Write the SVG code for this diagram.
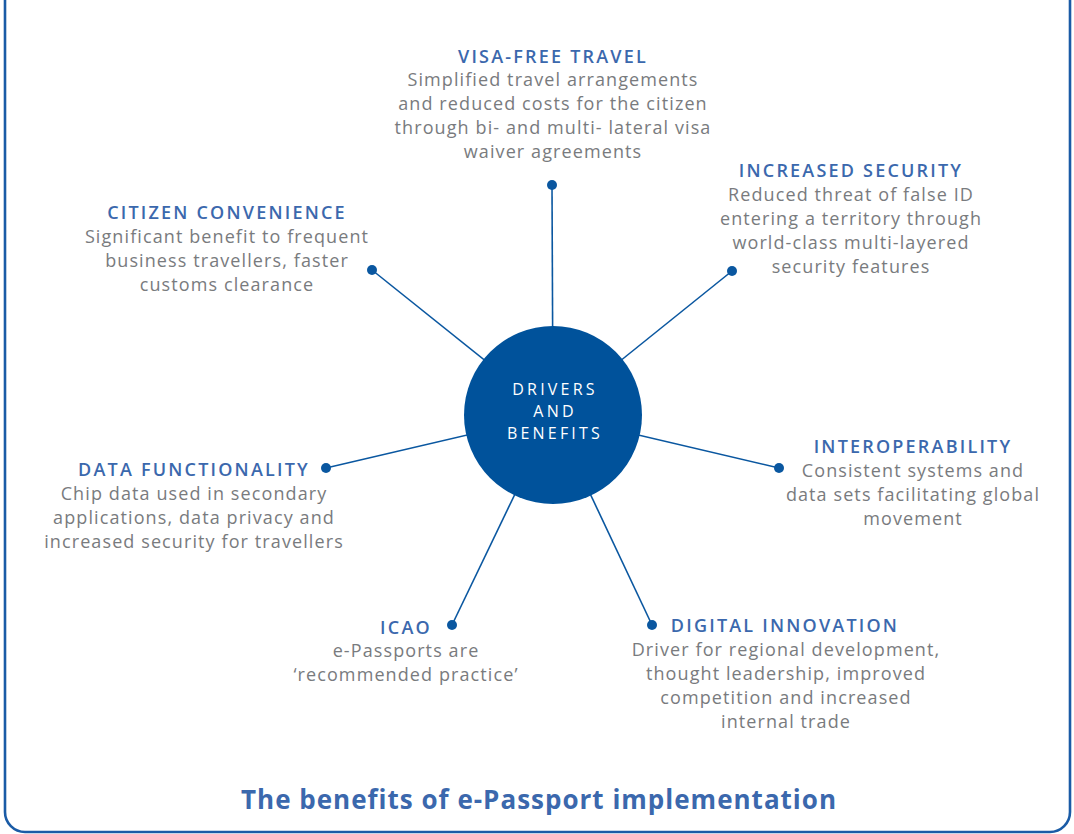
<svg xmlns="http://www.w3.org/2000/svg" width="1074" height="834" viewBox="0 0 1074 834">
<style>
.h{font-family:"Open Sans","Liberation Sans",sans-serif;font-size:18px;font-weight:600;fill:#3b68ad;letter-spacing:2.2px;text-anchor:middle}
.b{font-family:"Open Sans","Liberation Sans",sans-serif;font-size:18px;fill:#797b7e;text-anchor:middle;letter-spacing:1.1px}
.c{font-family:"Open Sans","Liberation Sans",sans-serif;font-size:16px;fill:#ffffff;text-anchor:middle;letter-spacing:3.2px}
.ln{stroke:#0a57a0;stroke-width:1.6;fill:none}
.dot{fill:#0a57a0}
</style>
<rect width="1074" height="834" fill="#ffffff"/>
<path d="M5,-10 V812 A20,20 0 0 0 25,832 H1050 A20,20 0 0 0 1070,812 V-10" fill="none" stroke="#1a5ba6" stroke-width="2.6"/>
<g id="connectors">
<line class="ln" x1="552" y1="185" x2="553" y2="415"/>
<line class="ln" x1="732" y1="271" x2="553" y2="415"/>
<line class="ln" x1="372" y1="270" x2="553" y2="415"/>
<line class="ln" x1="779" y1="468" x2="553" y2="415"/>
<line class="ln" x1="326" y1="468" x2="553" y2="415"/>
<line class="ln" x1="452" y1="625" x2="553" y2="415"/>
<line class="ln" x1="652" y1="625" x2="553" y2="415"/>
<circle class="dot" cx="552" cy="185" r="5"/>
<circle class="dot" cx="732" cy="271" r="5"/>
<circle class="dot" cx="372" cy="270" r="5"/>
<circle class="dot" cx="779" cy="468" r="5"/>
<circle class="dot" cx="326" cy="468" r="5"/>
<circle class="dot" cx="452" cy="625" r="5"/>
<circle class="dot" cx="652" cy="625" r="5"/>
</g>
<g id="center">
<circle cx="553" cy="415" r="89" fill="#00529b"/>
<text class="c" x="555" y="395">DRIVERS</text>
<text class="c" x="555" y="417">AND</text>
<text class="c" x="555" y="439">BENEFITS</text>
</g>
<g id="visa">
<text class="h" x="553" y="63">VISA-FREE TRAVEL</text>
<text class="b" x="553" y="86">Simplified travel arrangements</text>
<text class="b" x="553" y="110">and reduced costs for the citizen</text>
<text class="b" x="553" y="134">through bi- and multi- lateral visa</text>
<text class="b" x="553" y="158">waiver agreements</text>
</g>
<g id="citizen">
<text class="h" x="227" y="219">CITIZEN CONVENIENCE</text>
<text class="b" x="227" y="243">Significant benefit to frequent</text>
<text class="b" x="227" y="267">business travellers, faster</text>
<text class="b" x="227" y="291">customs clearance</text>
</g>
<g id="security">
<text class="h" x="851" y="177">INCREASED SECURITY</text>
<text class="b" x="851" y="201">Reduced threat of false ID</text>
<text class="b" x="851" y="225">entering a territory through</text>
<text class="b" x="851" y="249">world-class multi-layered</text>
<text class="b" x="851" y="273">security features</text>
</g>
<g id="data">
<text class="h" x="194" y="476">DATA FUNCTIONALITY</text>
<text class="b" x="194" y="500">Chip data used in secondary</text>
<text class="b" x="194" y="524">applications, data privacy and</text>
<text class="b" x="194" y="548">increased security for travellers</text>
</g>
<g id="interop">
<text class="h" x="913" y="453">INTEROPERABILITY</text>
<text class="b" x="913" y="477">Consistent systems and</text>
<text class="b" x="913" y="501">data sets facilitating global</text>
<text class="b" x="913" y="525">movement</text>
</g>
<g id="icao">
<text class="h" x="406" y="634">ICAO</text>
<text class="b" x="406" y="657">e-Passports are</text>
<text class="b" x="406" y="681">‘recommended practice’</text>
</g>
<g id="digital">
<text class="h" x="785" y="632">DIGITAL INNOVATION</text>
<text class="b" x="786" y="656">Driver for regional development,</text>
<text class="b" x="786" y="680">thought leadership, improved</text>
<text class="b" x="786" y="704">competition and increased</text>
<text class="b" x="786" y="728">internal trade</text>
</g>
<text x="539" y="809" font-family="Open Sans, Liberation Sans, sans-serif" font-size="26" font-weight="700" fill="#3b68ad" text-anchor="middle" letter-spacing="1">The benefits of e-Passport implementation</text>
</svg>
